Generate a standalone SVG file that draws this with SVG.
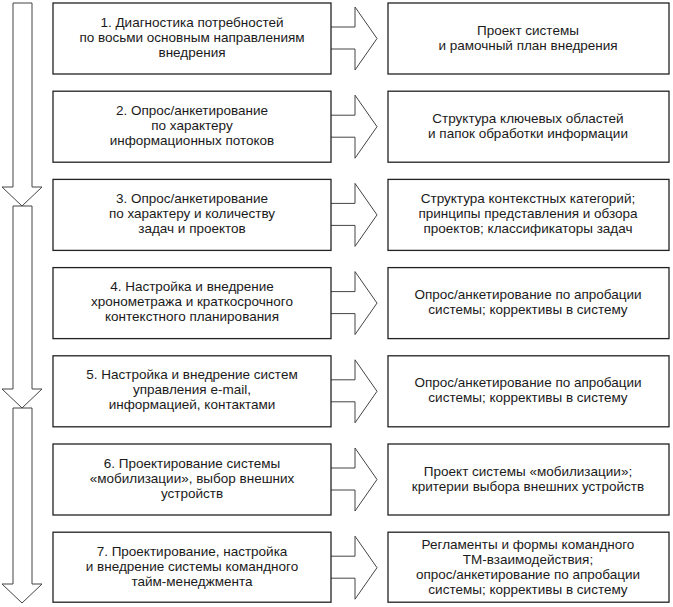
<svg xmlns="http://www.w3.org/2000/svg" width="673" height="607" viewBox="0 0 673 607">
<style>
.b{fill:#fff;stroke:#222;stroke-width:1.3}
.a{fill:#fff;stroke:#444;stroke-width:1}
text{font-family:"Liberation Sans",Arial,sans-serif;font-size:13.5px;fill:#1a1a1a;text-anchor:middle}
</style>
<rect width="673" height="607" fill="#fff"/>
<g id="connectors">
<path class="a" d="M13,3 H32 V187 H42 L22,206 L2,187 H13 Z"/>
<path class="a" d="M13,206 V389 H2 L22,408 L42,389 H32 V206 Z"/>
<path class="a" d="M13,408 V584 H2 L22,603 L42,584 H32 V408 Z"/>
<g id="h">
<path class="a" d="M331,27 H355 V7 L377,38.5 L355,70 V49 H331"/>
</g>
<use href="#h" y="88.2"/><use href="#h" y="176.4"/><use href="#h" y="264.6"/><use href="#h" y="352.8"/><use href="#h" y="441"/><use href="#h" y="529.2"/>
</g>
<g id="n1"><rect class="b" x="53" y="3" width="278" height="71"/><text x="192" y="27">1. Диагностика потребностей</text><text x="192" y="42">по восьми основным направлениям</text><text x="192" y="57">внедрения</text></g>
<g id="n2"><rect class="b" x="53" y="91.2" width="278" height="71"/><text x="192" y="115">2. Опрос/анкетирование</text><text x="192" y="130">по характеру</text><text x="192" y="145">информационных потоков</text></g>
<g id="n3"><rect class="b" x="53" y="179.4" width="278" height="71"/><text x="192" y="203">3. Опрос/анкетирование</text><text x="192" y="218">по характеру и количеству</text><text x="192" y="233">задач и проектов</text></g>
<g id="n4"><rect class="b" x="53" y="267.6" width="278" height="71"/><text x="192" y="291">4. Настройка и внедрение</text><text x="192" y="306">хронометража и краткосрочного</text><text x="192" y="321">контекстного планирования</text></g>
<g id="n5"><rect class="b" x="53" y="355.8" width="278" height="71"/><text x="192" y="379">5. Настройка и внедрение систем</text><text x="192" y="394">управления e-mail,</text><text x="192" y="409">информацией, контактами</text></g>
<g id="n6"><rect class="b" x="53" y="444" width="278" height="71"/><text x="192" y="468">6. Проектирование системы</text><text x="192" y="483">«мобилизации», выбор внешних</text><text x="192" y="498">устройств</text></g>
<g id="n7"><rect class="b" x="53" y="532.2" width="278" height="70"/><text x="192" y="556">7. Проектирование, настройка</text><text x="192" y="571">и внедрение системы командного</text><text x="192" y="586">тайм-менеджмента</text></g>
<g id="r1"><rect class="b" x="388" y="3" width="281" height="71"/><text x="528" y="35">Проект системы</text><text x="528" y="50">и рамочный план внедрения</text></g>
<g id="r2"><rect class="b" x="388" y="91.2" width="281" height="71"/><text x="528" y="123">Структура ключевых областей</text><text x="528" y="138">и папок обработки информации</text></g>
<g id="r3"><rect class="b" x="388" y="179.4" width="281" height="71"/><text x="528" y="203">Структура контекстных категорий;</text><text x="528" y="218">принципы представления и обзора</text><text x="528" y="233">проектов; классификаторы задач</text></g>
<g id="r4"><rect class="b" x="388" y="267.6" width="281" height="71"/><text x="528" y="299">Опрос/анкетирование по апробации</text><text x="528" y="314">системы; коррективы в систему</text></g>
<g id="r5"><rect class="b" x="388" y="355.8" width="281" height="71"/><text x="528" y="387">Опрос/анкетирование по апробации</text><text x="528" y="402">системы; коррективы в систему</text></g>
<g id="r6"><rect class="b" x="388" y="444" width="281" height="71"/><text x="528" y="476">Проект системы «мобилизации»;</text><text x="528" y="491">критерии выбора внешних устройств</text></g>
<g id="r7"><rect class="b" x="388" y="532.2" width="281" height="70"/><text x="528" y="549">Регламенты и формы командного</text><text x="528" y="564">ТМ-взаимодействия;</text><text x="528" y="579">опрос/анкетирование по апробации</text><text x="528" y="594">системы; коррективы в систему</text></g>
</svg>
